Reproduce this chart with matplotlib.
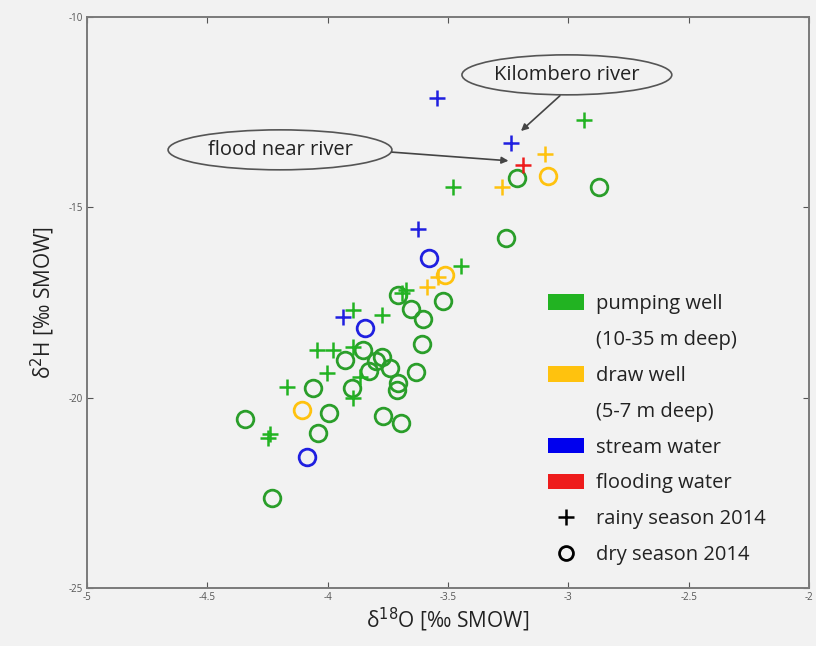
"""
Изотопный состав воды: d18O vs d2H, бассейн реки Киломберо.
"""

import matplotlib.pyplot as plt
from matplotlib.lines import Line2D
from matplotlib.patches import Ellipse, Patch

plt.rcParams["font.family"] = ["Open Sans", "DejaVu Sans"]

BG = "#f2f2f2"
GREEN = "#22b322"
YELLOW = "#ffc20e"
BLUE = "#1f1fe0"
RED = "#ee1c1c"

# pumping well (10-35 m)
pump_rainy_x = [-2.935, -3.478, -3.444, -3.675, -3.776, -3.894, -4.046, -3.977, -3.894,
                -4.004, -4.170, -3.894, -4.247, -4.240, -3.866, -3.690]
pump_rainy_y = [-12.71, -14.46, -16.54, -17.17, -17.83, -17.70, -18.75, -18.75, -18.66,
                -19.36, -19.71, -20.02, -21.07, -20.95, -19.45, -17.24]
pump_dry_x = [-3.215, -2.872, -3.259, -3.707, -3.520, -3.655, -3.605, -3.609, -3.928,
              -3.776, -3.741, -3.633, -3.707, -3.713, -4.060, -3.900, -3.993, -4.344,
              -4.039, -3.772, -3.695, -4.233, -3.852, -3.830, -3.800]
pump_dry_y = [-14.24, -14.46, -15.81, -17.30, -17.46, -17.68, -17.93, -18.59, -19.01,
              -18.92, -19.23, -19.32, -19.62, -19.80, -19.75, -19.75, -20.39, -20.57,
              -20.92, -20.48, -20.67, -22.64, -18.75, -19.30, -19.05]

# draw well (5-7 m)
draw_rainy_x = [-3.095, -3.277, -3.540, -3.589]
draw_rainy_y = [-13.61, -14.46, -16.84, -17.08]
draw_dry_x = [-3.084, -3.513, -4.105]
draw_dry_y = [-14.18, -16.78, -20.32]

# stream water
stream_rainy_x = [-3.547, -3.239, -3.623, -3.938]
stream_rainy_y = [-12.12, -13.30, -15.57, -17.89]
stream_dry_x = [-3.578, -3.845, -4.085]
stream_dry_y = [-16.32, -18.18, -21.55]

# flooding water
flood_rainy_x = [-3.190]
flood_rainy_y = [-13.89]

X_TICKS = [-5, -4.5, -4, -3.5, -3, -2.5, -2]
Y_TICKS = [-25, -20, -15, -10]

fig = plt.figure(figsize=(8.16, 6.46), dpi=100, facecolor=BG)
ax = fig.add_axes([0.1066, 0.0898, 0.8848, 0.8839], facecolor=BG)

plus = dict(marker="+", linestyle="none", markersize=12, markeredgewidth=1.8)
ring = dict(marker="o", linestyle="none", markersize=12, markeredgewidth=2.0,
            markerfacecolor="none")

ax.plot(pump_dry_x, pump_dry_y, markeredgecolor="#2a9e2a", **ring)
ax.plot(draw_dry_x, draw_dry_y, markeredgecolor=YELLOW, **ring)
ax.plot(stream_dry_x, stream_dry_y, markeredgecolor=BLUE, **ring)
ax.plot(pump_rainy_x, pump_rainy_y, markeredgecolor=GREEN, **plus)
ax.plot(draw_rainy_x, draw_rainy_y, markeredgecolor=YELLOW, **plus)
ax.plot(stream_rainy_x, stream_rainy_y, markeredgecolor=BLUE, **plus)
ax.plot(flood_rainy_x, flood_rainy_y, markeredgecolor=RED, **plus)

# подписи в эллипсах со стрелками
arr = dict(arrowstyle="-|>", color="#444444", lw=1.2, mutation_scale=10,
           shrinkA=0, shrinkB=1)
notes = [
    ("Kilombero river", (-3.006, -11.52), 0.872, (-3.035, -12.07), (-3.201, -13.02)),
    ("flood near river", (-4.198, -13.49), 0.930, (-3.733, -13.55), (-3.243, -13.78)),
]
for txt, c, w, start, tip in notes:
    ax.add_patch(Ellipse(c, w, 1.05, fc=BG, ec="#555555", lw=1.2, zorder=4))
    ax.text(c[0], c[1], txt, ha="center", va="center", fontsize=14.5,
            color="#222222", zorder=5)
    ax.annotate("", xy=tip, xytext=start, arrowprops=arr, zorder=5)

ax.set_xlim(-5, -2)
ax.set_ylim(-25, -10)
ax.set_xticks(X_TICKS)
ax.set_xticklabels([f"{t:g}" for t in X_TICKS])
ax.set_yticks(Y_TICKS)
ax.set_yticklabels([f"{t:g}" for t in Y_TICKS])
ax.tick_params(direction="in", length=4, width=0.8, labelsize=7, colors="#555555",
               top=True, right=True, pad=3)
for s in ax.spines.values():
    s.set_color("#7a7a7a")
    s.set_linewidth(1.4)

ax.set_xlabel("δ$^{18}$O [‰ SMOW]", fontsize=15, color="#222222", labelpad=2)
ax.set_ylabel("δ$^{2}$H [‰ SMOW]", fontsize=15, color="#222222", labelpad=8)

blank = Patch(facecolor="none", edgecolor="none")
handles = [
    Patch(facecolor=GREEN, edgecolor="none"), blank,
    Patch(facecolor=YELLOW, edgecolor="none"), blank,
    Patch(facecolor="#0000ee", edgecolor="none"),
    Patch(facecolor=RED, edgecolor="none"),
    Line2D([], [], color="black", marker="+", linestyle="none", markersize=12,
           markeredgewidth=1.8),
    Line2D([], [], color="black", marker="o", linestyle="none", markersize=10,
           markeredgewidth=2.0, markerfacecolor="none"),
]
labels = ["pumping well", "(10-35 m deep)", "draw well", "(5-7 m deep)",
          "stream water", "flooding water", "rainy season 2014", "dry season 2014"]
ax.legend(handles, labels, loc="upper left", bbox_to_anchor=(0.6385, 0.515),
          frameon=False, fontsize=14.5, labelcolor="#222222", handlelength=1.78,
          handleheight=0.82, labelspacing=0.79, handletextpad=0.62,
          borderpad=0, borderaxespad=0)

fig.savefig("out.png", dpi=100, facecolor=BG)
